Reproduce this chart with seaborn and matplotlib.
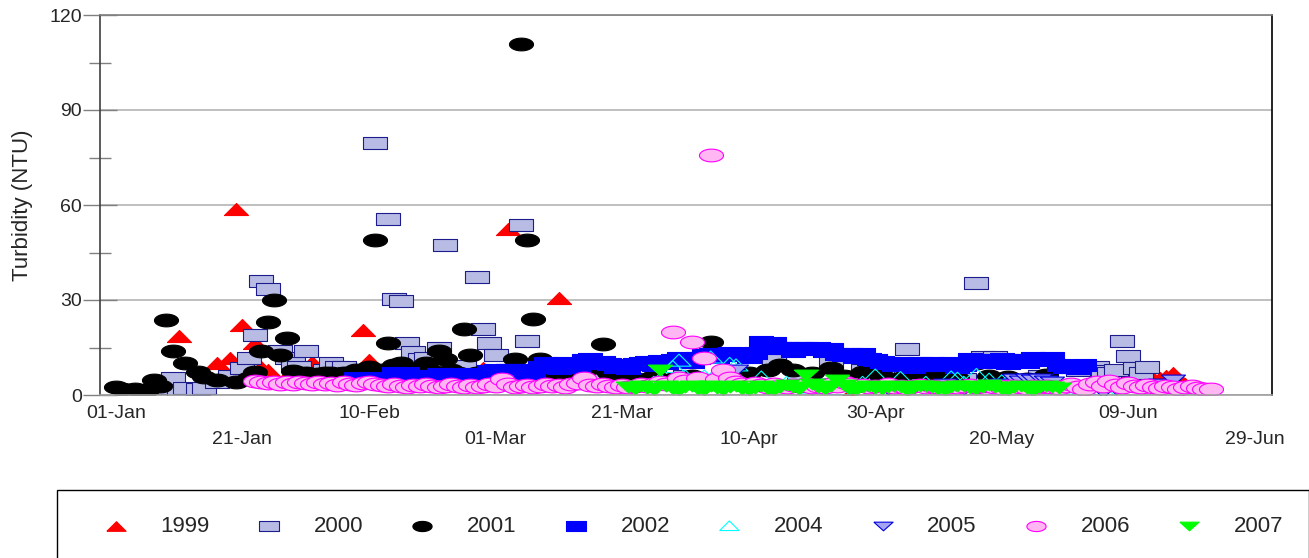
import numpy as np
import pandas as pd
import seaborn as sns
import matplotlib.pyplot as plt
from matplotlib.markers import MarkerStyle

# day of year (0 = 01-Jan) and turbidity (NTU), one pair of lists per year
days_1999 = [10, 12, 16, 18, 19, 20, 22, 23, 24, 27, 31, 34, 37, 39, 40, 42, 45, 48, 51, 55,
             58, 62, 66, 70, 116, 159, 160, 161, 162, 163, 164, 165, 166, 167, 168, 169]
ntu_1999 = [18.6, 0.5, 10, 11.7, 58.7, 22, 16.5, 9, 8, 6, 10.4, 6, 5, 20.5, 11, 6, 5, 7, 6, 8,
            8.5, 52.4, 8, 30.5, 0.2, 4, 4.5, 4, 5, 4.5, 5, 5.5, 6, 7, 5, 3.5]

days_2000 = [8, 9, 10, 11, 13, 14, 16, 18, 20, 21, 22, 23, 24, 26, 27, 28, 29, 30, 31, 33,
             34, 35, 36, 37, 39, 41, 42, 43, 44, 45, 46, 47, 48, 49, 51, 52, 54, 55, 57, 58,
             59, 60, 62, 64, 65, 67, 70, 75, 82, 90, 97, 104, 108, 113, 118, 121, 125, 130, 134, 136,
             137, 138, 139, 146, 150, 152, 154, 155, 156, 157, 158, 159, 160, 161, 162, 163]
ntu_2000 = [2.2, 5.4, 1.5, 2.2, 2, 2.2, 4, 6, 8.4, 11.7, 18.8, 36, 33.5, 14, 11.7, 10, 9, 14, 7, 8,
            10, 9, 9, 7, 6, 79.6, 6, 55.6, 30.3, 29.7, 16.5, 13.6, 11.4, 11.7, 14.8, 47.4, 8, 9.2, 37.2, 20.8,
            16.5, 12.6, 8, 53.7, 17, 9, 7, 6, 5, 6, 5, 11.5, 6, 10.4, 8, 7, 14.4, 6, 5, 35.4,
            12, 10.5, 12, 6, 9, 8, 8.5, 8.8, 7.5, 7, 7.9, 17, 12.3, 8.5, 7, 8.9]

days_2001 = [0, 1, 3, 5, 6, 7, 8, 9, 11, 13, 14, 16, 19, 21, 22, 23, 24, 25, 26, 27,
             28, 29, 30, 31, 32, 33, 34, 35, 36, 37, 38, 39, 40, 41, 42, 43, 44, 45, 46, 47,
             48, 49, 50, 51, 52, 53, 54, 55, 56, 57, 58, 59, 60, 61, 62, 63, 64, 65, 66, 67,
             68, 69, 70, 72, 75, 77, 78, 80, 82, 85, 88, 91, 94, 97, 100, 103, 105, 107, 110, 113,
             115, 118, 121, 124, 127, 130, 133, 135, 136, 138, 141, 144, 147]
ntu_2001 = [2.5, 2, 1.8, 1.6, 4.7, 3, 23.7, 14, 10, 7.3, 5.7, 4.7, 4, 5.4, 7.3, 14, 23, 30, 12.5, 18,
            7.5, 7, 7, 6, 6.5, 7, 7, 5, 7, 6, 8, 7, 9, 49, 8, 16.5, 9.5, 10, 7, 8,
            6, 10, 7.5, 14, 11.5, 8, 7, 21, 12.5, 7, 6, 5, 7, 6, 8, 11.5, 111, 49, 24, 11.5,
            9, 7, 6, 6, 8.5, 16, 7, 6.3, 5, 6, 5, 6, 16.8, 6, 7, 8, 9.5, 8, 7, 8.5,
            6, 7.3, 6, 5.5, 7, 6, 5.5, 10.7, 10, 6, 5.7, 5, 6.3]

days_2002 = list(range(38, 154))
ntu_2002 = [5.4, 4.5, 5, 5.4, 4.8, 5.2, 7, 6.5, 7, 6, 5.5, 6, 5,
            6.5, 6, 6.6, 5.5, 6.2, 6.6, 6, 5.8, 7.5, 8, 7, 8, 6.5, 7.8, 8, 7,
            9, 10, 9.5, 8.5, 10, 9.7, 8.8, 11, 11.3, 10, 10.5, 9.8, 9, 9.5, 8.5, 9.8,
            10, 10.5, 9.5, 10.7, 10, 11, 11.7, 11.5, 10.5, 11.7, 12.5, 13, 12, 13,
            13.3, 12.5, 13, 12, 13.3, 16.8, 16, 16.5, 15, 15, 14, 14.8, 15,
            14.5, 15, 14, 14.5, 13, 12.5, 13, 12, 12.8, 11.3, 11, 10.5,
            10, 9.5, 10, 9.8, 9, 10, 9.5, 10, 9.5, 9.8, 10, 9, 9.6,
            11.3, 11, 10.5, 11.2, 10.8, 11.3, 10, 11, 11.2, 10.5, 11.7, 11.5, 11, 11.7,
            9.5, 9, 9.2, 8.5, 9.5]

days_2004 = [83, 85, 86, 88, 89, 90, 91, 92, 93, 94, 95, 96, 97, 98, 99, 100, 102, 104, 106, 108,
             110, 112, 114, 116, 118, 120, 122, 124, 126, 128, 130, 132, 133, 134, 136, 138, 140, 141, 143, 145,
             147, 149, 151, 153, 156]
ntu_2004 = [3, 4, 5, 9, 11, 6, 4, 5, 6, 12, 7, 5, 10, 9.5, 4, 3, 5.7, 3, 4, 3,
            2.5, 3, 2, 3, 4, 6.3, 3, 5.5, 3, 4, 3, 5.7, 5.3, 4, 6.5, 5, 4.5, 4.5, 3, 2.5,
            3, 2, 1.5, 2, 1.5]

days_2005 = [98, 101, 104, 107, 110, 113, 116, 119, 122, 125, 128, 131, 134, 137, 140,
             142, 143, 144, 145, 146, 147, 148, 149, 151, 153, 156, 158, 160, 163, 165, 167]
ntu_2005 = [8, 3, 2.5, 3, 2, 3.5, 2, 3, 2, 3, 2.5, 3.5, 2, 3, 3.5,
            5, 4.5, 5, 4.8, 5, 4.5, 4, 2.5, 3, 2.5, 1, 2, 3, 2.5, 3.5, 4.7]

days_2006 = list(range(22, 174))
ntu_2006 = [4.5, 4, 3.8, 4.2, 3.5, 4, 3.6, 4.2, 3.8, 3.5,
            4, 3.5, 3.8, 3.2, 4, 3.6, 3.2, 3.8, 4.2, 3.5,
            3.2, 2.8, 3.5, 3, 2.5, 3.2, 2.8, 3.5, 3, 2.6,
            3, 3.4, 2.8, 2.5, 3.2, 2.4, 2.8, 3.5, 3, 5.2,
            3.4, 2.6, 2.8, 3.2, 2.5, 3, 3.5, 2.8, 3.2, 2.6,
            3.5, 3.8, 5.5, 3.2, 2.8, 3.5, 3, 2.6, 3.2, 2.5,
            3, 3.5, 2.8, 3.6, 4.2, 3.5, 20, 5.5, 4.5, 16.8,
            5.5, 11.7, 75.8, 5, 8, 5.4, 4, 3.5, 3, 3.8,
            3.2, 2.6, 3.5, 3, 2.5, 3.2, 2.8, 3.4, 2.5, 3,
            2.6, 3.5, 3, 4.2, 3.5, 2.8, 3.2, 2.5, 3, 2.8,
            3.5, 2.5, 3, 2.2, 2.8, 3.2, 2.5, 3, 2.6, 2.2,
            3, 2.5, 2.8, 3.2, 2.4, 2.8, 3, 2.5, 2.2, 2.8,
            3, 2.5, 2.2, 2.8, 2.4, 3, 2.5, 2.2, 2.8, 3.5,
            2.5, 2, 3.5, 4, 3, 4.5, 3.2, 2.6, 3.8, 3,
            2.5, 3.2, 2.6, 2.2, 2.8, 2.4, 2, 2.5, 2.8, 2.2,
            1.8, 1.9]

days_2007 = list(range(81, 150))
ntu_2007 = [2.5, 1.8, 3, 2.2, 1.5, 8, 2.8, 2, 1.5, 2.5,
            3, 2, 1.5, 2.8, 2.2, 1.6, 2.5, 3, 2, 1.5,
            2.2, 2.8, 1.8, 1.5, 2.5, 3.2, 2.4, 2, 6.3, 3.5,
            2.5, 2, 3, 4.7, 3.2, 2, 1.5, 2.6, 3, 2.2,
            1.8, 2.5, 3, 2.4, 1.5, 2.2, 2.8, 3, 2.4, 2,
            1.6, 2.5, 3, 2.8, 2.2, 1.8, 2.6, 3.2, 2.5, 2,
            1.5, 2.4, 3, 2.2, 1.4, 2.6, 3, 2.5, 2.2]

tick_days_row1 = [0, 40, 80, 120, 160]
tick_labels_row1 = ['01-Jan', '10-Feb', '21-Mar', '30-Apr', '09-Jun']
tick_days_row2 = [20, 60, 100, 140, 180]
tick_labels_row2 = ['21-Jan', '01-Mar', '10-Apr', '20-May', '29-Jun']

years = ['1999', '2000', '2001', '2002', '2004', '2005', '2006', '2007']
all_days = [days_1999, days_2000, days_2001, days_2002, days_2004, days_2005, days_2006, days_2007]
all_ntu = [ntu_1999, ntu_2000, ntu_2001, ntu_2002, ntu_2004, ntu_2005, ntu_2006, ntu_2007]

df = pd.concat([pd.DataFrame({'year': y, 'day': d, 'ntu': v})
                for y, d, v in zip(years, all_days, all_ntu)], ignore_index=True)

# markers are stretched wide in the original chart
t = np.linspace(0, 2 * np.pi, 41)
ellipse = MarkerStyle(np.column_stack([np.cos(t), 0.53 * np.sin(t)]))
rect = MarkerStyle([(-1, -0.5), (1, -0.5), (1, 0.5), (-1, 0.5), (-1, -0.5)])
tri_up = MarkerStyle([(-1, -0.5), (1, -0.5), (0, 0.5), (-1, -0.5)])
tri_down = MarkerStyle([(-1, 0.45), (1, 0.45), (0, -0.45), (-1, 0.45)])

# marker, fill, edge
styles = {
    '1999': (tri_up, '#ff0000', '#ff0000'),
    '2000': (rect, '#b8bce4', '#1c1c8c'),
    '2001': (ellipse, '#000000', '#000000'),
    '2002': (rect, '#0000ff', '#0000ff'),
    '2004': (tri_up, 'none', '#00ffff'),
    '2005': (tri_down, '#a4a4f2', '#0000e0'),
    '2006': (ellipse, '#ffb6f2', '#ff00ff'),
    '2007': (tri_down, '#00ff00', '#00ff00'),
}

sns.set_theme(style='white')
plt.rcParams['font.family'] = ['Liberation Sans', 'DejaVu Sans']

fig = plt.figure(figsize=(13.09, 5.58), dpi=100)
ax = fig.add_axes([100 / 1309, 1 - 395 / 558, 1172 / 1309, 380 / 558])

for year in years:
    marker, face, edge = styles[year]
    sns.scatterplot(data=df[df['year'] == year], x='day', y='ntu', ax=ax,
                    marker=marker, s=300, color=edge, facecolor=face,
                    edgecolor=edge, linewidth=0.8, label=year, legend=False)

ax.set_xlim(-2.5, 182.7)
ax.set_ylim(0, 120)
ax.set_xlabel('')
ax.set_ylabel('Turbidity (NTU)', fontsize=16)
ax.yaxis.set_label_coords(-0.057, 0.5)

ax.set_yticks([0, 30, 60, 90, 120])
ax.set_yticks([15, 45, 75, 105], minor=True)
ax.tick_params(axis='y', which='major', direction='inout', length=24, width=1,
               color='#808080', labelsize=14, pad=1, left=True)
ax.tick_params(axis='y', which='minor', direction='inout', length=16, width=1,
               color='#808080', left=True)

ax.set_xticks(tick_days_row1, tick_labels_row1)
ax.set_xticks(tick_days_row2, tick_labels_row2, minor=True)
ax.tick_params(axis='x', which='both', length=0, labelsize=14)
ax.tick_params(axis='x', which='major', pad=7)
ax.tick_params(axis='x', which='minor', pad=26)

ax.yaxis.grid(True, color='#b4b4b4', linewidth=1.2)
ax.set_axisbelow(True)
ax.spines['left'].set_color('#404040')
ax.spines['left'].set_linewidth(1.2)
ax.spines['right'].set_color('#000000')
ax.spines['right'].set_linewidth(1.2)
ax.spines['top'].set_color('#808080')
ax.spines['top'].set_linewidth(1.2)
ax.spines['bottom'].set_color('#a0a0a0')
ax.spines['bottom'].set_linewidth(1.2)

handles, labels = ax.get_legend_handles_labels()
leg = fig.legend(handles, labels, loc='upper left', ncol=8, mode='expand',
                 bbox_to_anchor=(57 / 1309, 0, 1252 / 1309, 1 - 490 / 558),
                 borderaxespad=0, borderpad=1.15, fontsize=16, markerscale=0.8,
                 handlelength=3.0, handletextpad=0.5, fancybox=False, framealpha=1)
leg.get_frame().set_edgecolor('#000000')
leg.get_frame().set_linewidth(1.0)

fig.savefig('out.png', dpi=100)
